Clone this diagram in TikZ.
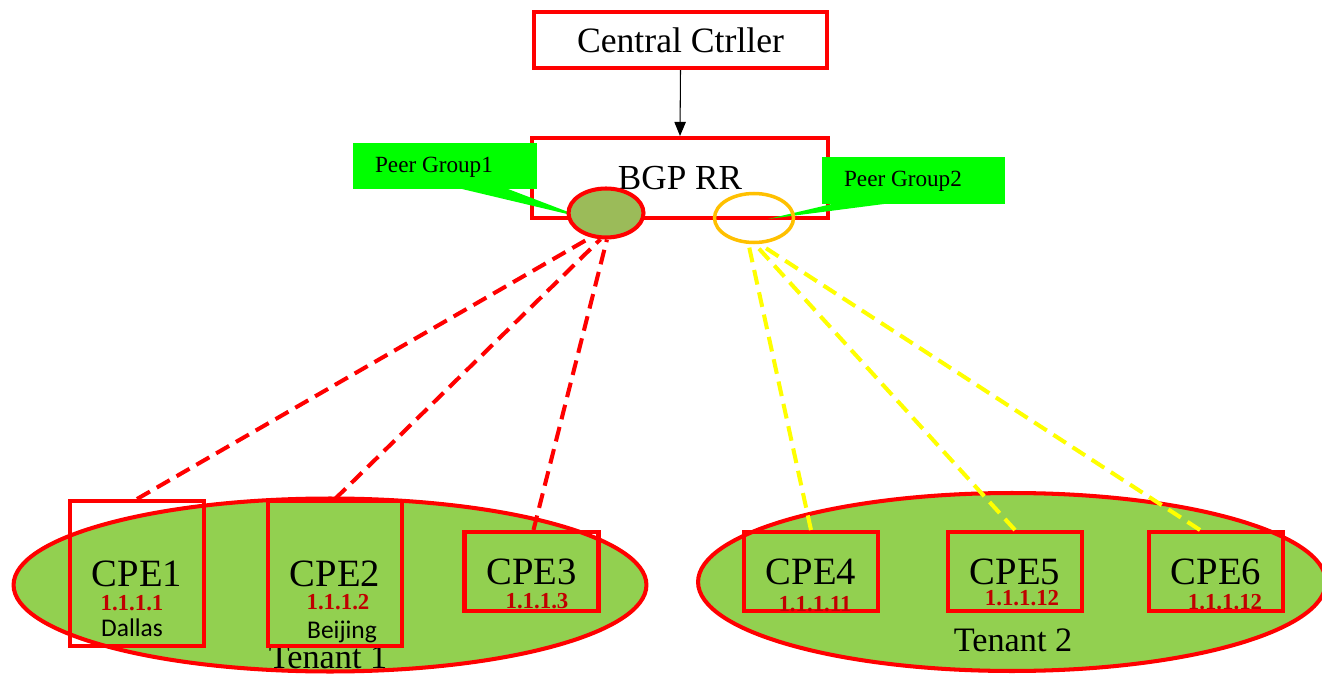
\documentclass[tikz,border=0pt]{standalone}
\usepackage{fontspec}
\setmainfont{Liberation Serif}
\newfontfamily\cityfont{Carlito}
\usetikzlibrary{shapes.geometric, arrows.meta, positioning}

\definecolor{boxred}{RGB}{255,0,0}
\definecolor{iptext}{RGB}{192,0,0}
\definecolor{tenantgreen}{RGB}{146,208,80}
\definecolor{olivegreen}{RGB}{155,187,89}
\definecolor{calloutgreen}{RGB}{0,255,0}
\definecolor{ringorange}{RGB}{255,192,0}
\definecolor{linkyellow}{RGB}{255,255,0}

\tikzset{
  redbox/.style={draw=boxred, line width=2.3pt, rectangle, inner sep=0pt},
  cpebox/.style={redbox, minimum width=2.68cm, minimum height=1.58cm,
    font=\fontsize{22}{26}\selectfont},
  tallbox/.style={cpebox, minimum height=2.9cm},
  tenant/.style={draw=boxred, fill=tenantgreen, line width=2.3pt, ellipse, inner sep=0pt},
  iplbl/.style={text=iptext, font=\fontsize{13}{15}\selectfont\bfseries, inner sep=0pt},
  citylbl/.style={font=\cityfont\fontsize{14.5}{17}\selectfont, inner sep=0pt},
  bigtxt/.style={font=\fontsize{19.5}{23}\selectfont, inner sep=0pt},
  callout/.style={fill=calloutgreen},
  peertxt/.style={font=\fontsize{13.2}{15}\selectfont, inner sep=0pt},
  redlink/.style={draw=boxred, line width=2.3pt, dash pattern=on 8.5pt off 4.5pt},
  yellowlink/.style={draw=linkyellow, line width=2.3pt, dash pattern=on 8.5pt off 4.5pt},
}

\begin{document}
\begin{tikzpicture}[x=0.02cm, y=-0.02cm, >=Stealth]
\useasboundingbox (0,0) rectangle (1322,675);
\clip (0,0) rectangle (1322,675);

% --- controller and route reflector ---
\node[redbox, minimum width=5.86cm, minimum height=1.12cm,
  font=\fontsize{20.3}{24}\selectfont] (ctrl) at (680.5,40) {Central Ctrller};
\node[redbox, minimum width=5.92cm, minimum height=1.6cm,
  font=\fontsize{20}{24}\selectfont] (rr) at (680,178) {BGP RR};
\draw[line width=0.6pt, -{Triangle[length=8pt, width=6.5pt]}] (ctrl.south) -- (rr.north);

% --- peer group callouts ---
\fill[callout] (353,143) rectangle (537,189);
\fill[callout] (462,189) -- (584,218) -- (508,189) -- cycle;
\node[peertxt] (pg1lbl) at (434,167) {Peer Group1};
\fill[callout] (822,157) rectangle (1005,204);
\fill[callout] (832,204) -- (768,219) -- (884,204) -- cycle;
\node[peertxt] (pg2lbl) at (903,181) {Peer Group2};

% --- peer group rings ---
\node[draw=boxred, fill=olivegreen, line width=2.3pt, ellipse, inner sep=0pt,
  minimum width=1.5cm, minimum height=0.98cm] (pg1) at (606,213) {};
\node[draw=ringorange, line width=2pt, ellipse, inner sep=0pt,
  minimum width=1.58cm, minimum height=0.98cm] (pg2) at (754,218) {};

% --- tenants ---
\node[tenant, minimum width=12.66cm, minimum height=3.46cm] (t1) at (330,585) {};
\node[tenant, minimum width=12.56cm, minimum height=3.56cm] (t2) at (1012,582) {};
\node[bigtxt] (t1lbl) at (328,657) {Tenant 1};
\node[bigtxt] (t2lbl) at (1013,640) {Tenant 2};

% --- CPEs ---
\node[tallbox] (cpe1) at (137,573.5) {CPE1};
\node[tallbox] (cpe2) at (335,573.5) {CPE2};
\node[cpebox] (cpe3) at (531.5,571.5) {CPE3};
\node[cpebox] (cpe4) at (811,571.5) {CPE4};
\node[cpebox] (cpe5) at (1015,571.5) {CPE5};
\node[cpebox] (cpe6) at (1216,571.5) {CPE6};

\node[iplbl] (ip1) at (132,603) {1.1.1.1};
\node[iplbl] (ip2) at (338,602) {1.1.1.2};
\node[iplbl] (ip3) at (537,601) {1.1.1.3};
\node[iplbl] (ip4) at (815,604) {1.1.1.11};
\node[iplbl] (ip5) at (1022,598) {1.1.1.12};
\node[iplbl] (ip6) at (1225,602) {1.1.1.12};
\node[citylbl] (city1) at (132,628) {Dallas};
\node[citylbl] (city2) at (342,632) {Beijing};

% --- sessions ---
\draw[redlink] (cpe1.north) -- (pg1.238);
\draw[redlink] (cpe2.north) -- (pg1.258);
\draw[redlink] ([xshift=0.04cm]cpe3.north) -- (pg1.272);
\draw[yellowlink] (cpe4.north) -- (pg2.258);
\draw[yellowlink] (cpe5.north) -- (pg2.272);
\draw[yellowlink] ([xshift=-0.32cm]cpe6.north) -- (pg2.282);
\end{tikzpicture}
\end{document}
